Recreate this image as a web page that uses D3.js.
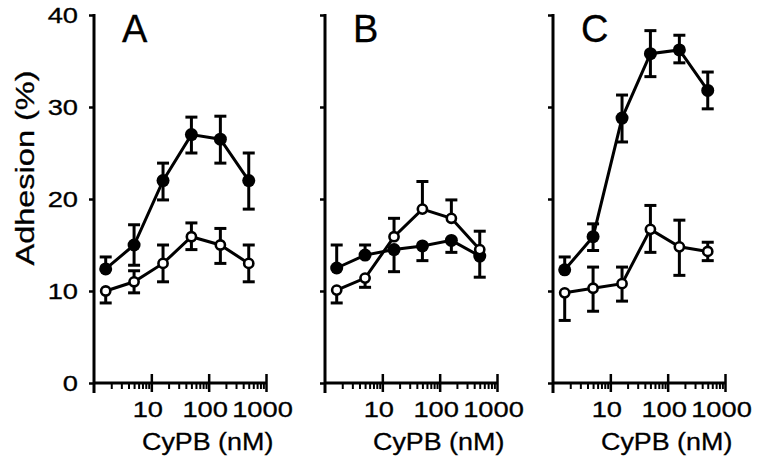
<!DOCTYPE html>
<html><head><meta charset="utf-8">
<script src="https://cdn.jsdelivr.net/npm/d3@7"></script>
<style>body{margin:0;background:#fff}svg{display:block}text{font-family:"Liberation Sans",Arial,sans-serif;fill:#000;stroke:#000;stroke-width:0.3px}</style>
</head><body><svg id="c" width="760" height="464"></svg>
<script>
const concentrations = [1.6, 5, 16, 50, 160, 500];
const panelLabels = ["A", "B", "C"];
const yTickValues = [0, 10, 20, 30, 40];
const xMajorTicks = [10, 100, 1000];
const xMinorTicks = [2,3,4,5,6,7,8,9,20,30,40,50,60,70,80,90,200,300,400,500,600,700,800,900];
const yLabel = "Adhesion (%)";
const xLabel = "CyPB (nM)";

// Panel A
const aClosed   = [12.4, 15.0, 22.0, 27.0, 26.5, 22.0];
const aClosedHi = [13.7, 17.2, 23.9, 28.9, 29.0, 25.0];
const aClosedLo = [12.4, 12.8, 19.9, 25.0, 23.9, 18.9];
const aOpen     = [10.0, 11.0, 13.0, 15.9, 15.0, 13.0];
const aOpenHi   = [10.0, 12.2, 15.0, 17.4, 16.8, 15.0];
const aOpenLo   = [8.7, 9.8, 11.0, 14.5, 13.0, 11.0];
// Panel B
const bClosed   = [12.5, 13.9, 14.5, 14.9, 15.5, 13.8];
const bClosedHi = [15.0, 15.0, 14.5, 14.9, 15.5, 13.8];
const bClosedLo = [12.5, 13.9, 12.1, 13.3, 14.2, 11.5];
const bOpen     = [10.1, 11.4, 15.9, 18.9, 17.9, 14.5];
const bOpenHi   = [10.1, 11.4, 17.9, 21.9, 19.9, 16.5];
const bOpenLo   = [8.7, 10.4, 15.9, 18.9, 17.9, 14.5];
// Panel C
const cClosed   = [12.3, 15.9, 28.8, 35.8, 36.2, 31.8];
const cClosedHi = [13.7, 17.3, 31.3, 38.3, 37.8, 33.8];
const cClosedLo = [12.3, 14.4, 26.2, 33.3, 34.8, 29.8];
const cOpen     = [9.8, 10.3, 10.8, 16.7, 14.8, 14.3];
const cOpenHi   = [9.8, 12.6, 12.6, 19.3, 17.7, 15.3];
const cOpenLo   = [6.8, 7.8, 8.9, 14.2, 11.7, 13.3];

const panelData = [
  {closed: [aClosed, aClosedHi, aClosedLo], open: [aOpen, aOpenHi, aOpenLo]},
  {closed: [bClosed, bClosedHi, bClosedLo], open: [bOpen, bOpenHi, bOpenLo]},
  {closed: [cClosed, cClosedHi, cClosedLo], open: [cOpen, cOpenHi, cOpenLo]}
];

const svg = d3.select("#c");
const FONT = "Liberation Sans, Arial, sans-serif";
const panelLeft = [94, 325, 553];
const W = 172;
const y = d3.scaleLinear().domain([0, 40]).range([383, 15]);

// y label
svg.append("text")
  .attr("transform", "translate(34,168) rotate(-90) scale(1.3,1)")
  .attr("text-anchor", "middle").attr("font-size", 25).text(yLabel);

function toPts(series) {
  return concentrations.map((c, k) => ({c, v: series[0][k], hi: series[1][k], lo: series[2][k]}));
}

panelData.forEach((pd, i) => {
  const g = svg.append("g").attr("transform", `translate(${panelLeft[i]},0)`);
  const x = d3.scaleLog().domain([1, 1000]).range([0, W]);

  // y axis
  const yg = g.append("g")
    .call(d3.axisLeft(y).tickValues(yTickValues).tickSize(5).tickSizeOuter(0)
      .tickFormat(i === 0 ? d3.format("d") : () => ""))
    .attr("font-size", 22).attr("font-family", FONT);
  yg.select(".domain").remove();
  yg.selectAll(".tick line").attr("stroke", "#000").attr("stroke-width", 2.5);
  yg.selectAll(".tick text").attr("x", 0).attr("dy", "0.36em").attr("fill", "#000")
    .attr("transform", "translate(-16,0) scale(1.24,1)");
  g.append("line").attr("x1", 0).attr("x2", 0)
    .attr("y1", y(40) - 1).attr("y2", y(0) + 10)
    .attr("stroke", "#000").attr("stroke-width", 3);

  // x axis minor
  const xm = g.append("g").attr("transform", `translate(0,${y(0)})`)
    .call(d3.axisBottom(x).tickValues(xMinorTicks).tickSize(6).tickFormat(() => ""));
  xm.select(".domain").remove();
  xm.selectAll(".tick line").attr("stroke", "#000").attr("stroke-width", 2);
  // x axis major
  const xg = g.append("g").attr("transform", `translate(0,${y(0)})`)
    .call(d3.axisBottom(x).tickValues(xMajorTicks).tickSize(9).tickSizeOuter(0).tickFormat(d3.format("d")))
    .attr("font-size", 22).attr("font-family", FONT);
  xg.select(".domain").attr("stroke", "#000").attr("stroke-width", 3)
    .attr("d", `M0,0H${W}`);
  xg.selectAll(".tick line").attr("stroke", "#000").attr("stroke-width", 2.5).attr("y1", -9).attr("y2", 9);
  xg.selectAll(".tick text").attr("y", 0).attr("dy", 0).attr("fill", "#000")
    .attr("transform", "translate(-4,34) scale(1.24,1)");

  // x title
  g.append("text")
    .attr("transform", `translate(${x(100) - 1},450) scale(1.12,1)`)
    .attr("text-anchor", "middle").attr("font-size", 24).text(xLabel);

  // panel letter
  g.append("text").attr("x", 28).attr("y", 42).attr("font-size", 38).text(panelLabels[i]);

  const closedPts = toPts(pd.closed), openPts = toPts(pd.open);
  const line = d3.line().x(d => x(d.c)).y(d => y(d.v));
  [closedPts, openPts].forEach(pts => {
    g.append("path").attr("d", line(pts)).attr("fill", "none")
      .attr("stroke", "#000").attr("stroke-width", 3);
  });
  // error bars
  [closedPts, openPts].forEach(pts => {
    pts.forEach(d => {
      const cx = x(d.c);
      g.append("line").attr("x1", cx).attr("x2", cx).attr("y1", y(d.hi)).attr("y2", y(d.lo))
        .attr("stroke", "#000").attr("stroke-width", 3);
      [d.hi, d.lo].forEach(e => {
        if (e !== d.v) g.append("line").attr("x1", cx - 6).attr("x2", cx + 6)
          .attr("y1", y(e)).attr("y2", y(e)).attr("stroke", "#000").attr("stroke-width", 3);
      });
    });
  });
  // markers
  g.selectAll(".cm").data(closedPts).join("circle")
    .attr("cx", d => x(d.c)).attr("cy", d => y(d.v)).attr("r", 6.5).attr("fill", "#000");
  g.selectAll(".om").data(openPts).join("circle")
    .attr("cx", d => x(d.c)).attr("cy", d => y(d.v)).attr("r", 4.6)
    .attr("fill", "#fff").attr("stroke", "#000").attr("stroke-width", 2.6);
});
</script></body></html>
